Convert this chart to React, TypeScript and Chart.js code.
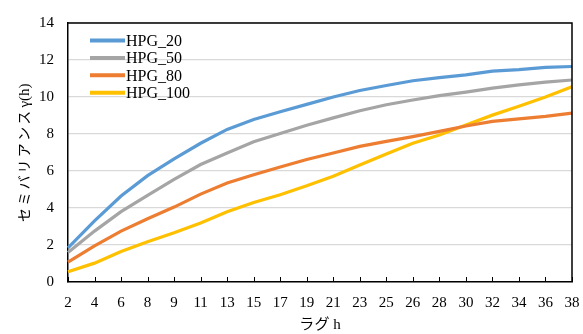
import React, { useEffect, useRef } from "react";
import { Chart, registerables } from "chart.js";

Chart.register(...registerables);

const lags = ["2", "4", "6", "8", "9", "11", "13", "15", "17", "19", "21", "23", "25", "26", "28", "30", "32", "34", "36", "38"];
const hpg20 = [1.85, 3.3, 4.65, 5.75, 6.65, 7.5, 8.25, 8.78, 9.2, 9.6, 10.0, 10.35, 10.62, 10.88, 11.05, 11.2, 11.4, 11.48, 11.6, 11.65];
const hpg50 = [1.6, 2.75, 3.8, 4.68, 5.55, 6.35, 6.97, 7.58, 8.03, 8.47, 8.87, 9.26, 9.58, 9.84, 10.07, 10.26, 10.48, 10.66, 10.8, 10.92];
const hpg80 = [1.07, 1.95, 2.75, 3.42, 4.05, 4.75, 5.35, 5.8, 6.22, 6.62, 6.97, 7.33, 7.6, 7.86, 8.14, 8.43, 8.68, 8.82, 8.95, 9.13];
const hpg100 = [0.55, 1.02, 1.65, 2.18, 2.66, 3.19, 3.8, 4.3, 4.72, 5.2, 5.72, 6.32, 6.92, 7.5, 7.95, 8.48, 9.02, 9.5, 10.0, 10.56];
const seriesNames = ["HPG_20", "HPG_50", "HPG_80", "HPG_100"];
const seriesColors = ["#5B9BD5", "#A5A5A5", "#ED7D31", "#FFC000"];
const yTitleMain = "セミバリアンス";
const yTitleSuffix = "γ(h)";
const xTitle = "ラグ h";

const FONT = "'Liberation Serif', 'Times New Roman', 'Noto Sans CJK JP', serif";

const frameAndLegend = {
  id: "frameAndLegend",
  afterDraw(chart: any) {
    const { ctx, chartArea } = chart;
    const xs = chart.scales.x;
    ctx.save();
    // top and right border of plot area
    ctx.strokeStyle = "#000";
    ctx.lineWidth = 1.5;
    ctx.beginPath();
    ctx.moveTo(chartArea.left, chartArea.top);
    ctx.lineTo(chartArea.right, chartArea.top);
    ctx.lineTo(chartArea.right, chartArea.bottom);
    ctx.stroke();
    // inward x tick marks
    ctx.lineWidth = 1;
    ctx.beginPath();
    xs.ticks.forEach((_t: any, i: number) => {
      const px = Math.round(xs.getPixelForTick(i)) + 0.5;
      ctx.moveTo(px, chartArea.bottom);
      ctx.lineTo(px, chartArea.bottom - 5);
    });
    ctx.stroke();
    // legend
    const x0 = 90;
    const x1 = 125;
    const y0 = 40.5;
    const step = 17.4;
    ctx.font = "16px " + FONT;
    ctx.textBaseline = "middle";
    ctx.textAlign = "left";
    chart.data.datasets.forEach((ds: any, i: number) => {
      const y = y0 + i * step;
      ctx.strokeStyle = ds.borderColor;
      ctx.lineWidth = 4;
      ctx.lineCap = "butt";
      ctx.beginPath();
      ctx.moveTo(x0, y);
      ctx.lineTo(x1, y);
      ctx.stroke();
      ctx.fillStyle = "#000";
      ctx.fillText(ds.label, x1 + 1, y + 1);
    });
    // y-axis title
    ctx.translate(25, 0);
    ctx.rotate(-Math.PI / 2);
    ctx.textAlign = "left";
    ctx.textBaseline = "middle";
    ctx.fillStyle = "#000";
    ctx.font = "14px " + FONT;
    (ctx as any).letterSpacing = "2.2px";
    const startU = -222;
    ctx.fillText(yTitleMain, startU, 0);
    const w1 = ctx.measureText(yTitleMain).width;
    (ctx as any).letterSpacing = "0px";
    ctx.font = "15px " + FONT;
    ctx.fillText(yTitleSuffix, startU + w1 + 1, 0);
    ctx.restore();
  },
};

export default function App() {
  const ref = useRef<HTMLCanvasElement>(null);
  useEffect(() => {
    document.body.style.margin = "0";
    const values = [hpg20, hpg50, hpg80, hpg100];
    const chart = new Chart(ref.current!, {
      type: "line",
      data: {
        labels: lags,
        datasets: values.map((v, i) => ({
          label: seriesNames[i],
          data: v,
          borderColor: seriesColors[i],
          backgroundColor: seriesColors[i],
          borderWidth: 3.2,
          pointRadius: 0,
          tension: 0,
          fill: false,
        })),
      },
      options: {
        animation: false,
        responsive: false,
        maintainAspectRatio: false,
        layout: { padding: { left: 0, top: 17, right: 11, bottom: 0 } },
        plugins: { legend: { display: false }, tooltip: { enabled: false } },
        scales: {
          x: {
            type: "category",
            offset: false,
            grid: {
              display: true,
              drawOnChartArea: false,
              drawTicks: true,
              tickLength: 9,
              color: "rgba(0,0,0,0)",
            },
            border: { display: true, color: "#000", width: 1.5 },
            ticks: {
              color: "#000",
              font: { family: FONT, size: 15 },
              maxRotation: 0,
              autoSkip: false,
              padding: 3,
            },
            title: {
              display: true,
              text: xTitle,
              color: "#000",
              font: { family: FONT, size: 15 },
              padding: { top: 0, bottom: 0 },
            },
            afterFit: (s: any) => {
              s.height = 52;
            },
          },
          y: {
            min: 0,
            max: 14,
            grid: { color: "#D9D9D9", lineWidth: 1.3, drawTicks: false },
            border: { display: true, color: "#000", width: 1.5 },
            ticks: {
              stepSize: 2,
              color: "#000",
              font: { family: FONT, size: 15 },
              padding: 14,
            },
            title: { display: false },
            afterFit: (s: any) => {
              s.width = 68;
            },
          },
        },
      },
      plugins: [frameAndLegend],
    });
    return () => chart.destroy();
  }, []);
  return (
    <div style={{ width: 583, height: 334 }}>
      <canvas ref={ref} width={583} height={334} style={{ display: "block" }} />
    </div>
  );
}
